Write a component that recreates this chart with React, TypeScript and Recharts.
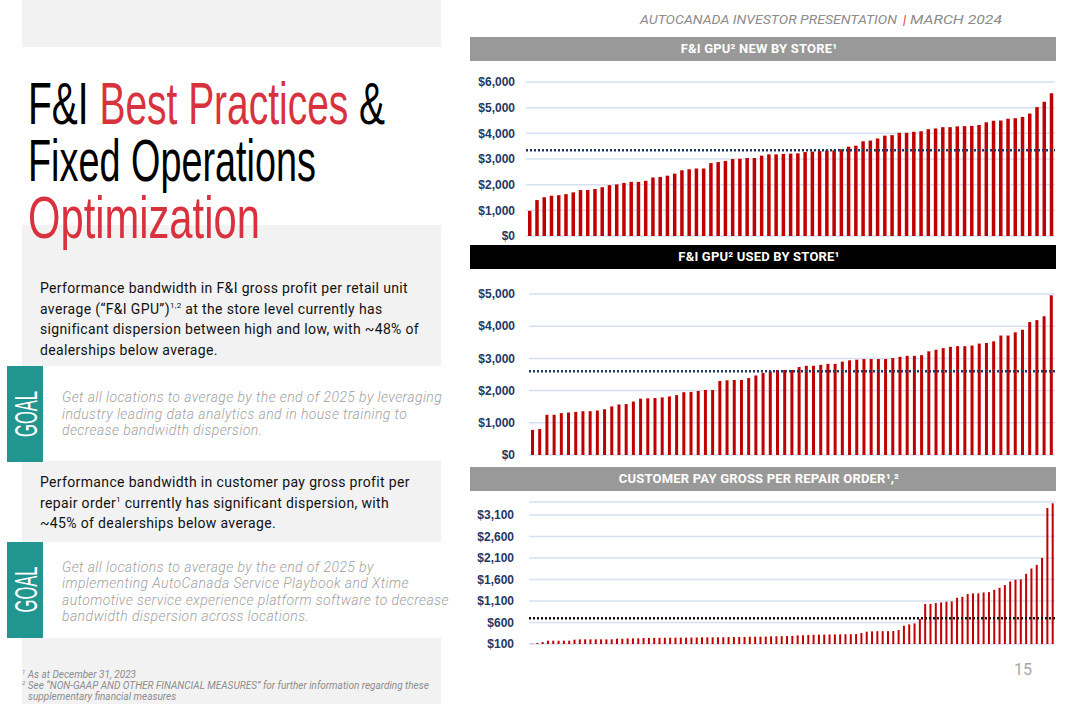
import React from "react";
import {
  BarChart,
  Bar,
  XAxis,
  YAxis,
  CartesianGrid,
  ReferenceLine,
} from "recharts";

// F&I GPU new, by store (sorted low -> high)
const newGpu = [
  980, 1400, 1510, 1570, 1590, 1630, 1700, 1790, 1790, 1830,
  1900, 1980, 2010, 2070, 2110, 2110, 2150, 2280, 2300, 2350,
  2430, 2560, 2600, 2630, 2630, 2840, 2880, 2920, 3000, 3010,
  3040, 3040, 3130, 3180, 3180, 3200, 3210, 3220, 3270, 3290,
  3310, 3330, 3340, 3380, 3480, 3520, 3690, 3720, 3800, 3910,
  3930, 4020, 4020, 4060, 4080, 4160, 4190, 4240, 4240, 4270,
  4280, 4290, 4320, 4430, 4490, 4500, 4570, 4590, 4640, 4770,
  5020, 5230, 5560,
];
const newAvg = 3340;
const newTicks = [0, 1000, 2000, 3000, 4000, 5000, 6000];

// F&I GPU used, by store
const usedGpu = [
  780, 810, 1250, 1250, 1300, 1320, 1340, 1360, 1360, 1380,
  1420, 1510, 1570, 1580, 1660, 1750, 1760, 1770, 1790, 1820,
  1860, 1950, 1960, 1990, 2020, 2020, 2300, 2320, 2330, 2330,
  2390, 2470, 2550, 2600, 2640, 2640, 2640, 2730, 2770, 2770,
  2800, 2830, 2830, 2900, 2940, 2960, 2980, 2980, 2980, 2980,
  3010, 3050, 3080, 3080, 3100, 3220, 3270, 3320, 3360, 3380,
  3380, 3400, 3460, 3480, 3530, 3710, 3710, 3810, 3890, 4130,
  4190, 4310, 4960,
];
const usedAvg = 2600;
const usedTicks = [0, 1000, 2000, 3000, 4000, 5000];

// customer pay gross per repair order
const cpGross = [
  108, 123, 146, 177, 177, 177, 177, 177, 200, 208,
  208, 208, 208, 208, 208, 210, 224, 224, 231, 231,
  231, 240, 242, 243, 244, 245, 246, 247, 248, 248,
  249, 250, 255, 255, 256, 256, 257, 262, 262, 263,
  264, 268, 270, 270, 272, 278, 280, 282, 284, 288,
  300, 302, 308, 315, 317, 318, 322, 324, 325, 326,
  327, 332, 355, 386, 394, 398, 398, 399, 401, 425,
  525, 556, 579, 680, 1028, 1030, 1051, 1066, 1082, 1090,
  1175, 1198, 1260, 1275, 1277, 1298, 1306, 1360, 1407, 1468,
  1553, 1592, 1600, 1731, 1855, 1940, 2102, 3261, 3370,
];
const cpAvg = 700;
const cpTicks = [100, 600, 1100, 1600, 2100, 2600, 3100];

const RED = "#c00000";
const TITLE_RED = "#d9323f";
const TEAL = "#21958f";
const PANEL = "#f2f2f2";
const NAVY = "#1f3864";

const money = (v: number) => "$" + v.toLocaleString("en-US");

const tickStyle = {
  fill: NAVY,
  fontSize: 12,
  fontWeight: 700,
  fontFamily: "'Liberation Sans', Arial, sans-serif",
};

interface StoreChartProps {
  values: number[];
  avg: number;
  ticks: number[];
  domain: [number, number];
  left: number;
  top: number;
  height: number;
  tickMargin: number;
  barSize: number;
  avgColor: string;
}

function StoreChart(p: StoreChartProps) {
  const data = p.values.map((v, i) => ({ store: i + 1, value: v }));
  const width = 1055 - p.left;
  return (
    <div style={{ position: "absolute", left: p.left, top: p.top }}>
      <BarChart
        width={width}
        height={p.height}
        data={data}
        margin={{ top: 12, right: 0, bottom: 10, left: 0 }}
        barCategoryGap={0}
      >
        <CartesianGrid vertical={false} stroke="#d6e0f1" strokeWidth={1.5} />
        <XAxis dataKey="store" hide />
        <YAxis
          type="number"
          domain={p.domain}
          ticks={p.ticks}
          width={60}
          axisLine={false}
          tickLine={false}
          tickMargin={p.tickMargin}
          tick={tickStyle}
          tickFormatter={money}
          interval={0}
        />
        <Bar dataKey="value" fill={RED} barSize={p.barSize} isAnimationActive={false} />
        <ReferenceLine
          y={p.avg}
          stroke={p.avgColor}
          strokeWidth={2.5}
          strokeDasharray="2 2"
        />
      </BarChart>
    </div>
  );
}

function Header({ top, bg, children }: { top: number; bg: string; children: React.ReactNode }) {
  return (
    <div
      style={{
        position: "absolute",
        left: 470,
        top,
        width: 586,
        height: 24,
        background: bg,
        color: "#fff",
        fontFamily: "Roboto, sans-serif",
        fontWeight: 700,
        fontSize: 13,
        lineHeight: "24px",
        textAlign: "center",
        paddingRight: 8,
        boxSizing: "border-box",
        letterSpacing: 0.2,
      }}
    >
      {children}
    </div>
  );
}

// one title line: Liberation Sans squeezed sideways to look like the condensed face
function TitleLine({ top, squeeze, children }: { top: number; squeeze: number; children: React.ReactNode }) {
  return (
    <div
      style={{
        position: "absolute",
        left: 28,
        top,
        height: 46,
        fontFamily: "'Liberation Sans', Arial, sans-serif",
        fontSize: 59,
        lineHeight: "46px",
        color: "#000",
        whiteSpace: "nowrap",
        transform: `scaleX(${squeeze})`,
        transformOrigin: "left center",
      }}
    >
      {children}
    </div>
  );
}

const bodyText: React.CSSProperties = {
  position: "absolute",
  fontFamily: "Roboto, sans-serif",
  fontSize: 14,
  letterSpacing: 0.35,
  lineHeight: "20.5px",
  color: "#111",
  whiteSpace: "nowrap",
};

const goalText: React.CSSProperties = {
  position: "absolute",
  left: 62,
  fontFamily: "Roboto, sans-serif",
  fontStyle: "italic",
  fontWeight: 300,
  fontSize: 14,
  letterSpacing: 0.4,
  lineHeight: "16.6px",
  color: "#9f9f9f",
  whiteSpace: "nowrap",
};

const sup: React.CSSProperties = { fontSize: 8, lineHeight: 0 };

export default function App() {
  return (
    <div
      style={{
        position: "absolute",
        left: 0,
        top: 0,
        width: 1065,
        height: 704,
        overflow: "hidden",
        background: "#fff",
      }}
    >
      {/* left panels */}
      <div style={{ position: "absolute", left: 22, top: 0, width: 419, height: 47, background: PANEL }} />
      <div style={{ position: "absolute", left: 22, top: 225, width: 419, height: 141, background: PANEL }} />
      <div style={{ position: "absolute", left: 22, top: 461, width: 419, height: 81, background: PANEL }} />
      <div style={{ position: "absolute", left: 22, top: 638, width: 419, height: 66, background: PANEL }} />
      <div style={{ position: "absolute", left: 7, top: 366, width: 36, height: 96, background: TEAL }} />
      <div style={{ position: "absolute", left: 7, top: 542, width: 36, height: 96, background: TEAL }} />

      <TitleLine top={80.5} squeeze={0.66}>
        F&amp;I <span style={{ color: TITLE_RED }}>Best Practices</span> &amp;
      </TitleLine>
      <TitleLine top={138} squeeze={0.641}>
        Fixed Operations
      </TitleLine>
      <TitleLine top={194.5} squeeze={0.707}>
        <span style={{ color: TITLE_RED }}>Optimization</span>
      </TitleLine>

      <svg
        width={1065}
        height={704}
        style={{ position: "absolute", left: 0, top: 0 }}
      >
        <g fontFamily="'Liberation Sans', Arial, sans-serif" fontSize={32} fill="#fff">
          <text transform="translate(36.5 437) rotate(-90)" textLength={46} lengthAdjust="spacingAndGlyphs">
            GOAL
          </text>
          <text transform="translate(36.5 612.5) rotate(-90)" textLength={46} lengthAdjust="spacingAndGlyphs">
            GOAL
          </text>
        </g>
        <g fontFamily="Roboto, sans-serif" fontStyle="italic" fontSize={13.5} fill="#8c8c8c">
          <text x={640} y={24} textLength={257} lengthAdjust="spacingAndGlyphs">
            AUTOCANADA INVESTOR PRESENTATION
          </text>
          <text x={903} y={24} fill="#e0373f">
            |
          </text>
          <text x={910} y={24} textLength={92} lengthAdjust="spacingAndGlyphs">
            MARCH 2024
          </text>
        </g>
        <text x={1014} y={675} fontFamily="Roboto, sans-serif" fontSize={16} fill="#a6a6a6">
          15
        </text>
      </svg>

      <div style={{ ...bodyText, left: 40, top: 278 }}>
        Performance bandwidth in F&amp;I gross profit per retail unit
        <br />
        average (“F&amp;I GPU”)<sup style={sup}>1,2</sup> at the store level currently has
        <br />
        significant dispersion between high and low, with ~48% of
        <br />
        dealerships below average.
      </div>

      <div style={{ ...goalText, top: 389 }}>
        Get all locations to average by the end of 2025 by leveraging
        <br />
        industry leading data analytics and in house training to
        <br />
        decrease bandwidth dispersion.
      </div>

      <div style={{ ...bodyText, left: 40, top: 472 }}>
        Performance bandwidth in customer pay gross profit per
        <br />
        repair order<sup style={sup}>1</sup> currently has significant dispersion, with
        <br />
        ~45% of dealerships below average.
      </div>

      <div style={{ ...goalText, top: 558.5 }}>
        Get all locations to average by the end of 2025 by
        <br />
        implementing AutoCanada Service Playbook and Xtime
        <br />
        automotive service experience platform software to decrease
        <br />
        bandwidth dispersion across locations.
      </div>

      <div
        style={{
          position: "absolute",
          left: 22,
          top: 668.5,
          fontFamily: "Roboto, sans-serif",
          fontStyle: "italic",
          fontSize: 10,
          lineHeight: "11.2px",
          color: "#8c8c8c",
          whiteSpace: "nowrap",
        }}
      >
        <sup style={{ fontSize: 6, lineHeight: 0 }}>1</sup> As at December 31, 2023
        <br />
        <sup style={{ fontSize: 6, lineHeight: 0 }}>2</sup> See “NON-GAAP AND OTHER FINANCIAL MEASURES” for further information regarding these
        <br />
        <span style={{ paddingLeft: 6 }}>supplementary financial measures</span>
      </div>

      {/* charts */}
      <Header top={37} bg="#999999">
        F&amp;I GPU² NEW BY STORE¹
      </Header>
      <StoreChart
        values={newGpu}
        avg={newAvg}
        ticks={newTicks}
        domain={[0, 6000]}
        left={466}
        top={70}
        height={176}
        tickMargin={5}
        barSize={3.5}
        avgColor={NAVY}
      />

      <Header top={245} bg="#000000">
        F&amp;I GPU² USED BY STORE¹
      </Header>
      <StoreChart
        values={usedGpu}
        avg={usedAvg}
        ticks={usedTicks}
        domain={[0, 5000]}
        left={469}
        top={282}
        height={183}
        tickMargin={8}
        barSize={3}
        avgColor={NAVY}
      />

      <Header top={467} bg="#999999">
        CUSTOMER PAY GROSS PER REPAIR ORDER¹,²
      </Header>
      <StoreChart
        values={cpGross}
        avg={cpAvg}
        ticks={cpTicks}
        domain={[100, 3400]}
        left={469}
        top={490}
        height={164}
        tickMargin={9}
        barSize={2}
        avgColor="#111111"
      />
    </div>
  );
}
